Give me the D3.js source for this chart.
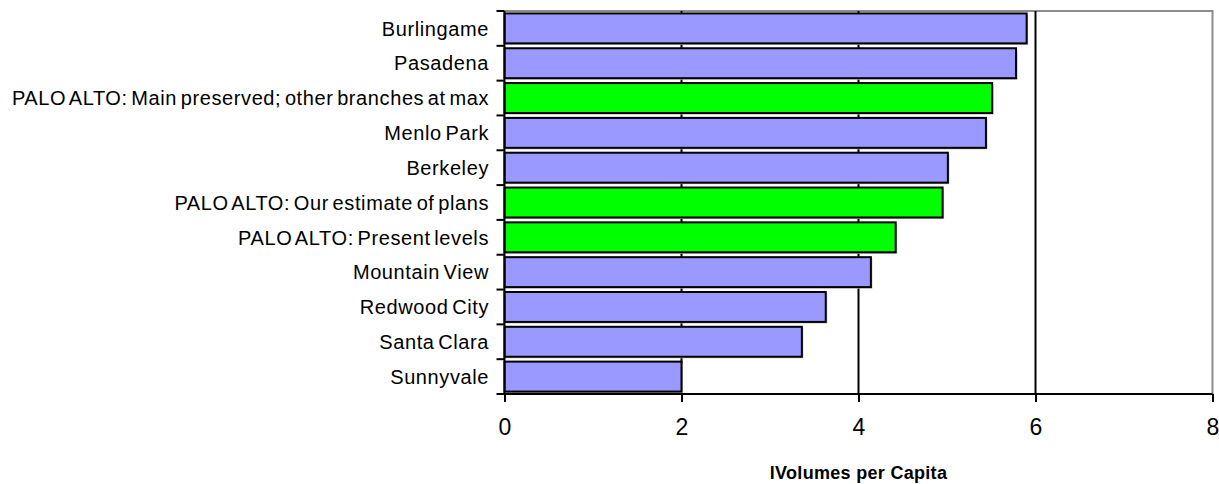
<!DOCTYPE html>
<html>
<head>
<meta charset="utf-8">
<script src="https://cdn.jsdelivr.net/npm/d3@7"></script>
<style>
  html, body { margin: 0; padding: 0; background: #fff; }
  svg { display: block; font-family: "Liberation Sans", Arial, sans-serif; }
</style>
</head>
<body>
<svg id="chart" width="1219" height="484"></svg>
<script>
// Library volumes per capita by city (top to bottom)
const categories = [
  "Burlingame",
  "Pasadena",
  "PALO ALTO: Main preserved; other branches at max",
  "Menlo Park",
  "Berkeley",
  "PALO ALTO: Our estimate of plans",
  "PALO ALTO: Present levels",
  "Mountain View",
  "Redwood City",
  "Santa Clara",
  "Sunnyvale"
];
const values = [5.9, 5.78, 5.51, 5.44, 5.01, 4.95, 4.42, 4.14, 3.63, 3.36, 2.0];
const highlighted = [false, false, true, false, false, true, true, false, false, false, false];
const xTicks = [0, 2, 4, 6, 8];
const xTitle = "lVolumes per Capita";

const svg = d3.select("#chart");
const plotLeft = 504.5, plotRight = 1212.5, plotTop = 11, plotBottom = 394;

const x = d3.scaleLinear().domain([0, 8]).range([plotLeft, plotRight]);
const y = d3.scaleBand().domain(categories).range([plotTop, plotBottom]).paddingInner(0.14).paddingOuter(0.07);

// plot frame (top and right edges in gray)
svg.append("path")
  .attr("d", `M${plotLeft},${plotTop}H${plotRight}V${plotBottom}`)
  .attr("fill", "none").attr("stroke", "#8c8c8c").attr("stroke-width", 2);

// vertical gridlines
svg.append("g").selectAll("line")
  .data(xTicks.filter(t => t > 0 && t < 8))
  .join("line")
  .attr("x1", d => x(d)).attr("x2", d => x(d))
  .attr("y1", plotTop).attr("y2", plotBottom)
  .attr("stroke", "#000").attr("stroke-width", 2);

// bar shadows
svg.append("g").selectAll("rect")
  .data(categories)
  .join("rect")
  .attr("x", x(0) + 1.5)
  .attr("y", d => y(d) + 1.5)
  .attr("width", (d, i) => x(values[i]) - x(0))
  .attr("height", y.bandwidth())
  .attr("fill", "#bdbdbd");

// bars
svg.append("g").selectAll("rect")
  .data(categories)
  .join("rect")
  .attr("x", x(0))
  .attr("y", d => y(d))
  .attr("width", (d, i) => x(values[i]) - x(0))
  .attr("height", y.bandwidth())
  .attr("fill", (d, i) => highlighted[i] ? "#00ff00" : "#9999ff")
  .attr("stroke", "#000").attr("stroke-width", 2);

// category axis: ticks sit on band boundaries
const yAxis = svg.append("g");
yAxis.append("line")
  .attr("x1", plotLeft).attr("x2", plotLeft).attr("y1", plotTop).attr("y2", plotBottom)
  .attr("stroke", "#000").attr("stroke-width", 2);
const step = (plotBottom - plotTop) / categories.length;
yAxis.selectAll("line.tick")
  .data(d3.range(categories.length + 1))
  .join("line").attr("class", "tick")
  .attr("x1", plotLeft - 8).attr("x2", plotLeft)
  .attr("y1", i => plotTop + i * step).attr("y2", i => plotTop + i * step)
  .attr("stroke", "#000").attr("stroke-width", 2);
yAxis.selectAll("text")
  .data(categories)
  .join("text")
  .attr("x", 489)
  .attr("y", d => y(d) + y.bandwidth() / 2)
  .attr("dy", "0.36em")
  .attr("text-anchor", "end")
  .attr("font-size", 20)
  .attr("letter-spacing", "0.6px")
  .attr("word-spacing", "-2.5px")
  .attr("fill", "#000")
  .text(d => d);

// value axis
const xAxis = svg.append("g").attr("transform", `translate(0,${plotBottom})`)
  .call(d3.axisBottom(x).tickValues(xTicks).tickSize(8).tickPadding(17).tickFormat(d3.format("d")));
xAxis.select(".domain").attr("stroke", "#000").attr("stroke-width", 2).attr("d", `M${plotLeft},0H${plotRight}`);
xAxis.selectAll(".tick line").attr("stroke", "#000").attr("stroke-width", 2);
xAxis.selectAll(".tick text")
  .attr("font-size", 23).attr("font-family", "Liberation Sans, Arial, sans-serif").attr("fill", "#000");

svg.append("text")
  .attr("x", x(4)).attr("y", 479)
  .attr("text-anchor", "middle")
  .attr("font-size", 18).attr("font-weight", "bold")
  .attr("letter-spacing", "0.3px")
  .attr("fill", "#000")
  .text(xTitle);
</script>
</body>
</html>
